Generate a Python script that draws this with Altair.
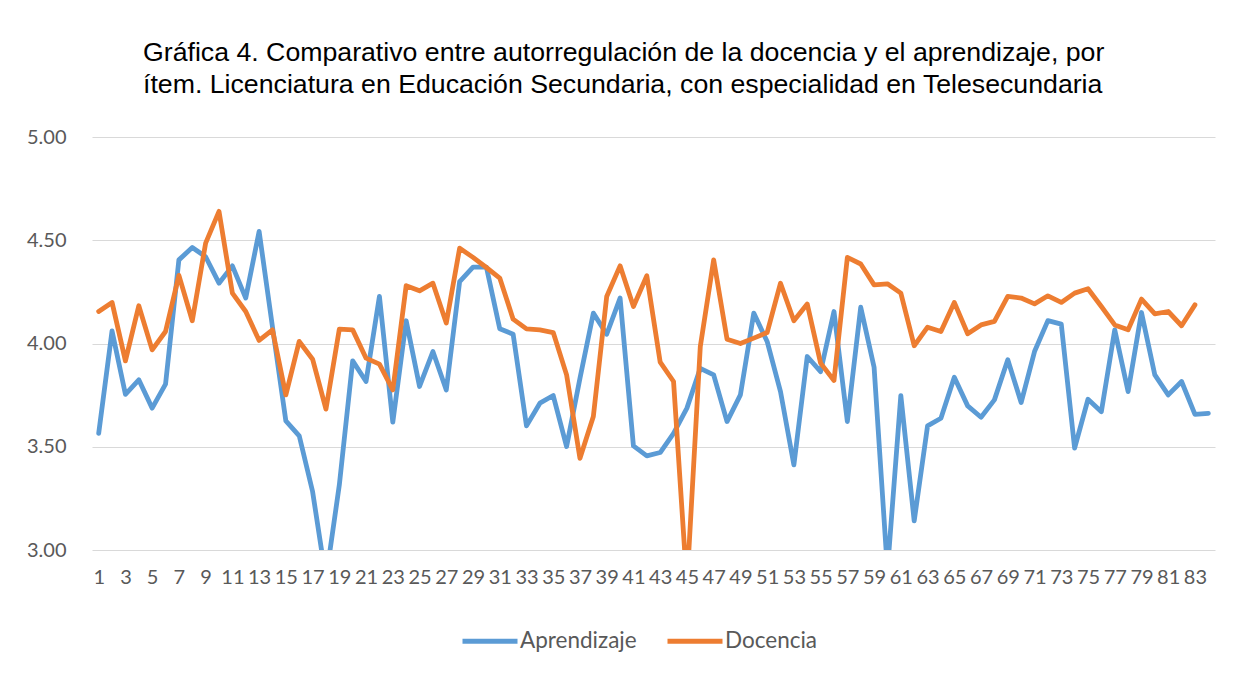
import altair as alt
import pandas as pd

items_aprendizaje = list(range(1, 85))
aprendizaje = [
    3.565, 4.061, 3.754, 3.824, 3.687, 3.803, 4.405, 4.465, 4.420, 4.292,
    4.376, 4.220, 4.543, 4.080, 3.625, 3.553, 3.283, 2.860, 3.315, 3.916,
    3.816, 4.228, 3.619, 4.110, 3.792, 3.961, 3.775, 4.300, 4.370, 4.370,
    4.071, 4.045, 3.601, 3.711, 3.748, 3.501, 3.832, 4.147, 4.045, 4.220,
    3.504, 3.456, 3.472, 3.565, 3.687, 3.880, 3.848, 3.622, 3.751, 4.147,
    4.010, 3.767, 3.412, 3.937, 3.864, 4.155, 3.622, 4.176, 3.885, 2.900,
    3.748, 3.141, 3.601, 3.638, 3.837, 3.698, 3.643, 3.727, 3.921, 3.714,
    3.961, 4.111, 4.094, 3.493, 3.730, 3.670, 4.066, 3.767, 4.150, 3.848,
    3.751, 3.816, 3.657, 3.662,
]

items_docencia = list(range(1, 84))
docencia = [
    4.155, 4.199, 3.916, 4.183, 3.969, 4.058, 4.330, 4.110, 4.486, 4.640,
    4.244, 4.155, 4.015, 4.066, 3.751, 4.010, 3.924, 3.682, 4.070, 4.066,
    3.929, 3.900, 3.775, 4.280, 4.255, 4.292, 4.099, 4.462, 4.417, 4.368,
    4.317, 4.118, 4.071, 4.066, 4.053, 3.848, 3.444, 3.646, 4.228, 4.376,
    4.179, 4.328, 3.910, 3.816, 2.830, 3.985, 4.405, 4.021, 4.000, 4.026,
    4.053, 4.292, 4.110, 4.191, 3.905, 3.821, 4.417, 4.385, 4.284, 4.289,
    4.244, 3.989, 4.079, 4.058, 4.199, 4.047, 4.090, 4.107, 4.228, 4.220,
    4.192, 4.231, 4.199, 4.244, 4.265, 4.179, 4.090, 4.066, 4.215, 4.144,
    4.155, 4.086, 4.187,
]

series_names = ["Aprendizaje", "Docencia"]
series_colors = ["#5B9BD5", "#ED7D31"]
x_tick_labels = list(range(1, 84, 2))
y_ticks = [3.0, 3.5, 4.0, 4.5, 5.0]

title_lines = [
    "Gráfica 4. Comparativo entre autorregulación de la docencia y el aprendizaje, por",
    "ítem. Licenciatura en Educación Secundaria, con especialidad en Telesecundaria",
]

df = pd.concat([
    pd.DataFrame({"item": items_aprendizaje, "valor": aprendizaje, "serie": series_names[0]}),
    pd.DataFrame({"item": items_docencia, "valor": docencia, "serie": series_names[1]}),
], ignore_index=True)

label_font = "Lato"
label_color = "#595959"

chart = alt.Chart(df).mark_line(
    strokeWidth=4.8, clip=True, strokeJoin="round", strokeCap="round"
).encode(
    x=alt.X(
        "item:Q",
        scale=alt.Scale(domain=[0.5, 84.5], nice=False, zero=False),
        axis=alt.Axis(
            values=x_tick_labels, title=None, grid=False, domain=False, ticks=False,
            labelFont=label_font, labelFontSize=20, labelColor=label_color,
            labelPadding=17, labelOverlap=False, labelFlush=False,
        ),
    ),
    y=alt.Y(
        "valor:Q",
        scale=alt.Scale(domain=[3, 5], nice=False, zero=False),
        axis=alt.Axis(
            values=y_ticks, format=".2f", title=None, grid=True, gridColor="#D9D9D9",
            gridWidth=1.2, domain=False, ticks=False,
            labelFont=label_font, labelFontSize=20, labelColor=label_color,
            labelPadding=26,
        ),
    ),
    color=alt.Color(
        "serie:N",
        scale=alt.Scale(domain=series_names, range=series_colors),
        legend=alt.Legend(
            title=None, orient="none", direction="horizontal",
            legendX=368, legendY=474,
            symbolType="stroke", symbolSize=3025, symbolStrokeWidth=5,
            labelFont=label_font, labelFontSize=22.5, labelColor=label_color,
            labelOffset=0, columnPadding=20, padding=0,
        ),
    ),
).properties(
    width=1123,
    height=413,
    autosize=alt.AutoSizeParams(type="none"),
    padding={"left": 84, "top": 129, "right": 30, "bottom": 125},
    title=alt.TitleParams(
        text=title_lines, anchor="start", frame="group", dx=51, offset=28,
        font="Liberation Sans", fontSize=26.7, fontWeight="normal",
        color="#000000", lineHeight=32,
    ),
).configure_view(stroke=None)

chart.save("out.html", embed_options={"renderer": "svg", "actions": False})
